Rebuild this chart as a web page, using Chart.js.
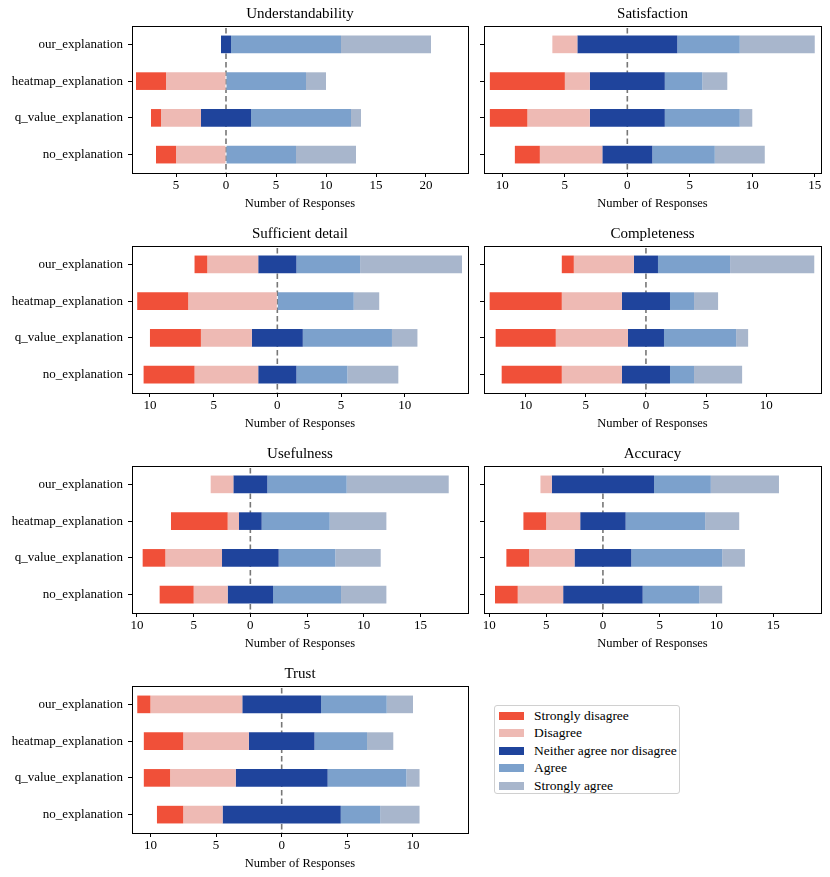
<!DOCTYPE html>
<html>
<head>
<meta charset="utf-8">
<title>Likert responses</title>
<script src="https://cdn.jsdelivr.net/npm/chart.js"></script>
<style>
    body { margin: 0; background: #fff; width: 830px; height: 877px; position: relative; overflow: hidden; font-family: "Liberation Serif", serif; }
    canvas.panel { position: absolute; }
    #legend { position: absolute; left: 494px; top: 705px; width: 186px; height: 89px; border: 1px solid #d0d0d0; border-radius: 3px; box-sizing: border-box; }
    #legend .item { position: absolute; left: 4px; height: 17px; font-size: 13.5px; line-height: 17px; white-space: nowrap; }
    #legend .sw { display: inline-block; width: 25px; height: 8px; vertical-align: middle; margin-right: 10px; position: relative; top: -1px; }
</style>
</head>
<body>
<canvas class="panel" id="p0" width="474" height="215" style="left:0;top:0"></canvas>
<canvas class="panel" id="p1" width="356" height="215" style="left:474px;top:0"></canvas>
<canvas class="panel" id="p2" width="474" height="215" style="left:0;top:220px"></canvas>
<canvas class="panel" id="p3" width="356" height="215" style="left:474px;top:220px"></canvas>
<canvas class="panel" id="p4" width="474" height="215" style="left:0;top:440px"></canvas>
<canvas class="panel" id="p5" width="356" height="215" style="left:474px;top:440px"></canvas>
<canvas class="panel" id="p6" width="474" height="215" style="left:0;top:660px"></canvas>
<div id="legend"></div>
<script>
    // categories (top to bottom) and answer levels
    var categories = ['our_explanation', 'heatmap_explanation', 'q_value_explanation', 'no_explanation'];
    var levels = ['Strongly disagree', 'Disagree', 'Neither agree nor disagree', 'Agree', 'Strongly agree'];
    var colors = ['#f05039', '#eebab4', '#1f449c', '#7ca1cc', '#a8b6cc'];

    // counts per category: [SD, D, N, A, SA]
    var understandability = [[0, 0, 1, 11, 9], [3, 6, 0, 8, 2], [1, 4, 5, 10, 1], [2, 5, 0, 7, 6]];
    var satisfaction      = [[0, 2, 8, 5, 6], [6, 2, 6, 3, 2], [3, 5, 6, 6, 1], [2, 5, 4, 5, 4]];
    var sufficientDetail  = [[1, 4, 3, 5, 8], [4, 7, 0, 6, 2], [4, 4, 4, 7, 2], [4, 5, 3, 4, 4]];
    var completeness      = [[1, 5, 2, 6, 7], [6, 5, 4, 2, 2], [5, 6, 3, 6, 1], [5, 5, 4, 2, 4]];
    var usefulness        = [[0, 2, 3, 7, 9], [5, 1, 2, 6, 5], [2, 5, 5, 5, 4], [3, 3, 4, 6, 4]];
    var accuracy          = [[0, 1, 9, 5, 6], [2, 3, 4, 7, 3], [2, 4, 5, 8, 2], [2, 4, 7, 5, 2]];
    var trust             = [[1, 7, 6, 5, 2], [3, 5, 5, 4, 2], [2, 5, 7, 6, 1], [2, 3, 9, 3, 3]];

    // x tick values (labels are shown as absolute values)
    var ticksUnderstandability = [-5, 0, 5, 10, 15, 20];
    var ticksSatisfaction = [-10, -5, 0, 5, 10, 15];
    var ticksSufficient = [-10, -5, 0, 5, 10];
    var ticksCompleteness = [-10, -5, 0, 5, 10];
    var ticksUsefulness = [-10, -5, 0, 5, 10, 15];
    var ticksAccuracy = [-10, -5, 0, 5, 10, 15];
    var ticksTrust = [-10, -5, 0, 5, 10];

    var panels = [
        { id: 'p0', title: 'Understandability', counts: understandability, ticks: ticksUnderstandability, min: -9.4, max: 24.2, left: true },
        { id: 'p1', title: 'Satisfaction', counts: satisfaction, ticks: ticksSatisfaction, min: -11.47, max: 15.5, left: false },
        { id: 'p2', title: 'Sufficient detail', counts: sufficientDetail, ticks: ticksSufficient, min: -11.41, max: 14.97, left: true },
        { id: 'p3', title: 'Completeness', counts: completeness, ticks: ticksCompleteness, min: -13.47, max: 14.56, left: false },
        { id: 'p4', title: 'Usefulness', counts: usefulness, ticks: ticksUsefulness, min: -10.44, max: 19.2, left: true },
        { id: 'p5', title: 'Accuracy', counts: accuracy, ticks: ticksAccuracy, min: -10.47, max: 19.2, left: false },
        { id: 'p6', title: 'Trust', counts: trust, ticks: ticksTrust, min: -11.4, max: 14.19, left: true }
    ];

    var FONT = '"Liberation Serif", serif';

    // dashed zero line behind the bars, and a full frame around the plot area
    var zeroLine = {
        id: 'zeroLine',
        beforeDatasetsDraw: function (chart) {
            var ctx = chart.ctx, a = chart.chartArea;
            var x = chart.scales.x.getPixelForValue(0);
            ctx.save();
            ctx.strokeStyle = '#777';
            ctx.lineWidth = 1.6;
            ctx.setLineDash([5.5, 3]);
            ctx.beginPath();
            ctx.moveTo(x, a.top + 2);
            ctx.lineTo(x, a.bottom);
            ctx.stroke();
            ctx.restore();
        }
    };
    var frame = {
        id: 'frame',
        afterDraw: function (chart) {
            var ctx = chart.ctx, a = chart.chartArea;
            ctx.save();
            ctx.strokeStyle = '#000';
            ctx.lineWidth = 1;
            ctx.strokeRect(Math.round(a.left) + 0.5, Math.round(a.top) + 0.5,
                Math.round(a.right - a.left), Math.round(a.bottom - a.top));
            ctx.restore();
        }
    };

    function buildDatasets(counts) {
        return levels.map(function (lvl, i) {
            var data = counts.map(function (row) {
                var start = -(row[0] + row[1] + row[2] / 2);
                for (var k = 0; k < i; k++) start += row[k];
                return row[i] ? [start, start + row[i]] : null;
            });
            return {
                label: lvl,
                data: data,
                backgroundColor: colors[i],
                borderWidth: 0,
                grouped: false,
                barPercentage: 0.48,
                categoryPercentage: 1
            };
        });
    }

    panels.forEach(function (p) {
        var ctx = document.getElementById(p.id).getContext('2d');
        new Chart(ctx, {
            type: 'bar',
            data: { labels: categories, datasets: buildDatasets(p.counts) },
            options: {
                indexAxis: 'y',
                responsive: false,
                animation: false,
                layout: { padding: { left: 0, right: p.left ? 6 : 9, top: 0, bottom: 0 } },
                plugins: {
                    legend: { display: false },
                    tooltip: { enabled: false },
                    title: {
                        display: true,
                        fullSize: false,
                        text: p.title,
                        color: '#000',
                        font: { family: FONT, size: 15, weight: 'normal' },
                        padding: { top: 5, bottom: 3 }
                    }
                },
                scales: {
                    x: {
                        type: 'linear',
                        min: p.min,
                        max: p.max,
                        afterBuildTicks: function (scale) {
                            scale.ticks = p.ticks.map(function (v) { return { value: v }; });
                        },
                        afterFit: function (scale) { scale.height = 42; },
                        ticks: {
                            color: '#000',
                            font: { family: FONT, size: 13 },
                            padding: 1,
                            maxRotation: 0,
                            callback: function (v) { return Math.abs(v); }
                        },
                        grid: { display: true, drawOnChartArea: false, drawTicks: true, tickLength: 4, color: '#000' },
                        border: { display: false },
                        title: {
                            display: true,
                            text: 'Number of Responses',
                            color: '#000',
                            font: { family: FONT, size: 12.5 },
                            padding: { top: 0, bottom: 4 }
                        }
                    },
                    y: {
                        afterFit: function (scale) { scale.width = p.left ? 132 : 10; },
                        ticks: {
                            display: p.left,
                            color: '#000',
                            font: { family: FONT, size: 13 },
                            padding: 5
                        },
                        grid: { display: true, drawOnChartArea: false, drawTicks: true, tickLength: 4, color: '#000', offset: false },
                        border: { display: false }
                    }
                }
            },
            plugins: [zeroLine, frame]
        });
    });

    // legend built from the same levels and colours
    var legend = document.getElementById('legend');
    levels.forEach(function (lvl, i) {
        var item = document.createElement('div');
        item.className = 'item';
        item.style.top = (1 + i * 17.4) + 'px';
        item.innerHTML = '<span class="sw" style="background:' + colors[i] + '"></span>' + lvl;
        legend.appendChild(item);
    });
</script>
</body>
</html>
